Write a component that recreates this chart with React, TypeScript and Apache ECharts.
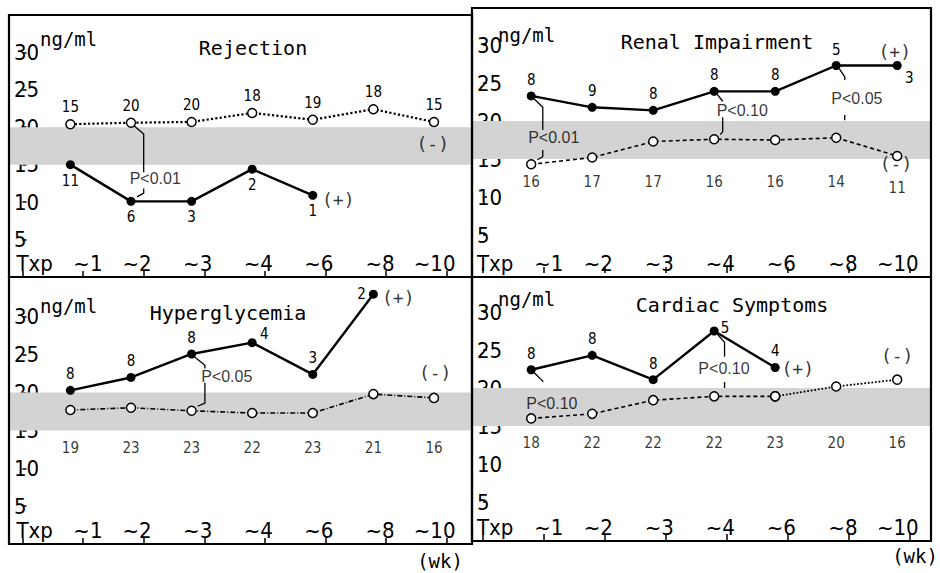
import React, { useEffect, useRef } from 'react';
import * as echarts from 'echarts';

// ---------- data ----------
const xLabels = ['Txp', '~1', '~2', '~3', '~4', '~6', '~8', '~10'];
const yTicks = [5, 10, 15, 20, 25, 30];
const bandLow = 15;
const bandHigh = 20;

// Rejection
const rejPlus = [15.0, 10.1, 10.1, 14.4, 10.9];
const rejPlusN = [11, 6, 3, 2, 1];
const rejMinus = [20.4, 20.6, 20.7, 21.9, 21.0, 22.4, 20.7];
const rejMinusN = [15, 20, 20, 18, 19, 18, 15];

// Renal Impairment
const renPlus = [23.3, 21.8, 21.4, 23.9, 23.9, 27.3, 27.3];
const renPlusN = [8, 9, 8, 8, 8, 5, 3];
const renMinus = [14.3, 15.2, 17.3, 17.6, 17.5, 17.8, 15.4];
const renMinusN = [16, 17, 17, 16, 16, 14, 11];

// Hyperglycemia
const hypPlus = [20.3, 22.0, 25.1, 26.6, 22.4, 33.0];
const hypPlusN = [8, 8, 8, 4, 3, 2];
const hypMinus = [17.7, 18.0, 17.6, 17.3, 17.3, 19.8, 19.3];
const hypMinusN = [19, 23, 23, 22, 23, 21, 16];

// Cardiac Symptoms
const carPlus = [22.4, 24.3, 21.1, 27.5, 22.7];
const carPlusN = [8, 8, 8, 5, 4];
const carMinus = [16.0, 16.6, 18.4, 18.9, 18.9, 20.2, 21.1];
const carMinusN = [18, 22, 22, 22, 23, 20, 16];

// P-value annotations (slot = interval index, values in ng/ml)
const rejAnn = [{ slot: 1, text: 'P<0.01', textY: 13.1, textDx: 0.4, lineDx: 0.21, upEnd: 14.0, lowStart: 11.8, lowEnd: 11.2, hook: true }];
const renAnn = [
  { slot: 0, text: 'P<0.01', textY: 17.8, textDx: 0.37, lineDx: 0.19, upEnd: 18.8, lowStart: 16.2, lowEnd: 15.3, hook: true },
  { slot: 3, text: 'P<0.10', textY: 21.4, textDx: 0.46, lineDx: 0.14, upEnd: 22.6, lowStart: 20.5, lowEnd: 18.6, hook: true },
  { slot: 5, text: 'P<0.05', textY: 23.0, textDx: 0.34, lineDx: 0.14, upEnd: 25.4, lowStart: 20.8, lowEnd: 20.1, hook: false },
];
const hypAnn = [{ slot: 2, text: 'P<0.05', textY: 22.1, textDx: 0.58, lineDx: 0.22, upEnd: 23.2, lowStart: 21.3, lowEnd: 18.6, hook: true }];
const carAnn = [
  { slot: 0, text: 'P<0.10', textY: 18.0, textDx: 0.34, lineDx: 0.19, upEnd: 20.8, lowStart: null, lowEnd: null, hook: false },
  { slot: 3, text: 'P<0.10', textY: 22.6, textDx: 0.16, lineDx: 0.17, upEnd: 24.1, lowStart: 20.8, lowEnd: 20.0, hook: false },
];

// rows (ng/ml) where the (-) counts are written, when not above the points
const renCountRow = [12.0, 12.0, 12.0, 12.0, 12.0, 12.0, 11.2];
const hypCountRow = [12.7, 12.7, 12.7, 12.7, 12.7, 12.7, 12.7];
const carCountRow = [12.8, 12.8, 12.8, 12.8, 12.8, 12.8, 12.8];

// ---------- layout ----------
const FONT_NARROW = '"Liberation Sans Narrow", "DejaVu Sans Condensed", "Roboto Condensed", sans-serif';
const FONT_SANS = '"Liberation Sans", Arial, sans-serif';
const FONT_MONO = '"DejaVu Sans Mono", "Liberation Mono", monospace';
const POINT_LAG = 0.21;
const xOf = (i: number) => i + 1 - POINT_LAG;
const xLabelShift = [0.2, 0.08, -0.11, -0.11, -0.11, -0.11, -0.1, -0.2];

const layouts = [
  { left: 9, right: 472, top: 15, zero: 277, frameTop: 15, frameBottom: 277, tick0: 22.5, step: 60.6, unit: 7.49, titleX: 253, titleY: 48, ngX: 40, ngY: 39 },
  { left: 472, right: 931, top: 8, zero: 273, frameTop: 8, frameBottom: 277, tick0: 483, step: 61, unit: 7.6, titleX: 717, titleY: 42, ngX: 498, ngY: 35 },
  { left: 9, right: 472, top: 277, zero: 544, frameTop: 277, frameBottom: 544, tick0: 22.5, step: 60.6, unit: 7.57, titleX: 228, titleY: 313, ngX: 40, ngY: 306 },
  { left: 472, right: 931, top: 277, zero: 540, frameTop: 277, frameBottom: 541, tick0: 483, step: 61, unit: 7.6, titleX: 732, titleY: 305, ngX: 498, ngY: 299 },
];

const panels = [
  { title: 'Rejection', plus: rejPlus, plusN: rejPlusN, plusPos: ['bottom', 'bottom', 'bottom', 'bottom', 'bottom'], minus: rejMinus, minusN: rejMinusN, countRow: null as number[] | null, dash: 'dotted' as any, dottedFrom: -1, ann: rejAnn, plusTag: [5.21, 10.4], minusTag: [6.77, 17.8] },
  { title: 'Renal Impairment', plus: renPlus, plusN: renPlusN, plusPos: ['top', 'top', 'top', 'top', 'top', 'top', 'bottomRight'], minus: renMinus, minusN: renMinusN, countRow: renCountRow, dash: [4, 3] as any, dottedFrom: -1, ann: renAnn, plusTag: [6.75, 29.1], minusTag: [6.77, 14.4] },
  { title: 'Hyperglycemia', plus: hypPlus, plusN: hypPlusN, plusPos: ['top', 'top', 'top', 'topRight', 'top', 'left'], minus: hypMinus, minusN: hypMinusN, countRow: hypCountRow, dash: [5, 2, 1, 2] as any, dottedFrom: -1, ann: hypAnn, plusTag: [6.2, 32.6], minusTag: [6.81, 22.7] },
  { title: 'Cardiac Symptoms', plus: carPlus, plusN: carPlusN, plusPos: ['top', 'top', 'top', 'right', 'top'], minus: carMinus, minusN: carMinusN, countRow: carCountRow, dash: [4, 3] as any, dottedFrom: 4, ann: carAnn, plusTag: [5.16, 22.6], minusTag: [6.79, 24.3] },
];

const countFont = { fontFamily: FONT_NARROW, fontSize: 15, color: '#000' };
const tickFont = { fontFamily: FONT_NARROW, fontSize: 22, color: '#000' };

function labelFor(pos: string) {
  switch (pos) {
    case 'bottom': return { position: 'bottom', distance: 4 };
    case 'top': return { position: 'top', distance: 4 };
    case 'topRight': return { position: 'top', distance: 0, offset: [12, 3] };
    case 'right': return { position: 'right', distance: 2, offset: [0, -3] };
    case 'left': return { position: 'left', distance: 3 };
    case 'bottomRight': return { position: 'bottom', distance: 0, offset: [12, 0] };
    default: return { position: 'top' };
  }
}

function buildOption() {
  const grid: any[] = [];
  const xAxis: any[] = [];
  const yAxis: any[] = [];
  const series: any[] = [];
  const graphic: any[] = [];

  panels.forEach((p, k) => {
    const L = layouts[k];
    grid.push({ left: L.left, top: L.top, width: L.right - L.left, height: L.zero - L.top, containLabel: false });
    const xMin = (L.left - L.tick0) / L.step;
    const xMax = (L.right - L.tick0) / L.step;
    xAxis.push({
      type: 'value', gridIndex: k, min: xMin, max: xMax, offset: L.frameBottom - L.zero,
      axisLine: { show: false }, splitLine: { show: false },
      axisTick: { show: true, inside: true, length: 6, customValues: xLabels.map((_, i) => i), lineStyle: { color: '#000', width: 1.5 } },
      axisLabel: {
        show: true, inside: true, margin: 3, ...tickFont,
        customValues: xLabels.map((_, i) => i + xLabelShift[i]),
        formatter: (v: number) => xLabels[Math.round(v)] ?? '',
      },
    });
    yAxis.push({
      type: 'value', gridIndex: k, min: 0, max: (L.zero - L.top) / L.unit,
      axisLine: { show: false }, splitLine: { show: false },
      axisTick: { show: true, inside: true, length: 4, customValues: yTicks, lineStyle: { color: '#000', width: 1.5 } },
      axisLabel: { show: true, inside: true, margin: 5, ...tickFont, customValues: yTicks },
    });

    // band + (-) series
    const minusData = p.minus.map((v, i) => ({ value: [xOf(i), v], name: String(p.minusN[i]) }));
    const minusCommon = {
      type: 'line', xAxisIndex: k, yAxisIndex: k, symbol: 'circle', symbolSize: 9,
      itemStyle: { color: '#fff', borderColor: '#000', borderWidth: 1.5 },
      z: 4,
      label: p.countRow === null ? { show: true, position: 'top', distance: 4, formatter: '{b}', ...countFont } : { show: false },
    };
    if (p.dottedFrom >= 0) {
      series.push({ ...minusCommon, data: minusData.slice(0, p.dottedFrom + 1), lineStyle: { color: '#000', width: 1.6, type: p.dash } });
      series.push({ ...minusCommon, data: minusData.slice(p.dottedFrom), lineStyle: { color: '#000', width: 1.8, type: 'dotted' } });
    } else {
      series.push({ ...minusCommon, data: minusData, lineStyle: { color: '#000', width: p.dash === 'dotted' ? 2.2 : 1.6, type: p.dash } });
    }
    series.push({
      type: 'line', xAxisIndex: k, yAxisIndex: k, data: [], z: 1,
      markArea: { silent: true, itemStyle: { color: '#d3d3d3' }, data: [[{ yAxis: bandLow }, { yAxis: bandHigh }]] },
    });

    // (+) series
    series.push({
      type: 'line', xAxisIndex: k, yAxisIndex: k, symbol: 'circle', symbolSize: 9, z: 5,
      itemStyle: { color: '#000' }, lineStyle: { color: '#000', width: 2.4 },
      label: { show: true, formatter: '{b}', ...countFont },
      data: p.plus.map((v, i) => ({ value: [xOf(i), v], name: String(p.plusN[i]), label: labelFor(p.plusPos[i]) })),
    });

    // (-) counts row
    if (p.countRow !== null) {
      const row = p.countRow;
      series.push({
        type: 'scatter', xAxisIndex: k, yAxisIndex: k, symbolSize: 0, z: 6,
        label: { show: true, position: 'inside', formatter: '{b}', ...countFont },
        data: p.minusN.map((n, i) => ({ value: [xOf(i), row[i]], name: String(n) })),
      });
    }

    // tags
    series.push({
      type: 'scatter', xAxisIndex: k, yAxisIndex: k, symbolSize: 0, z: 3,
      label: { show: true, position: 'inside', formatter: '{b}', fontFamily: FONT_MONO, fontSize: 18, color: '#000' },
      data: [{ value: p.plusTag, name: '(+)' }, { value: p.minusTag, name: '(-)' }],
    });

    // P-value annotations
    series.push({
      type: 'scatter', xAxisIndex: k, yAxisIndex: k, symbolSize: 0, z: 6,
      label: { show: true, position: 'inside', formatter: '{b}', fontFamily: FONT_SANS, fontSize: 16, color: '#000' },
      data: p.ann.map((a) => ({ value: [xOf(a.slot) + a.textDx, a.textY], name: a.text })),
    });
    p.ann.forEach((a) => {
      const x = xOf(a.slot);
      const hi = Math.max(p.plus[a.slot], p.minus[a.slot]);
      const lo = Math.min(p.plus[a.slot], p.minus[a.slot]);
      const lx = x + a.lineDx;
      const lineBase = { type: 'line', xAxisIndex: k, yAxisIndex: k, showSymbol: false, symbol: 'none', z: 2, lineStyle: { color: '#000', width: 1.3 }, silent: true };
      series.push({ ...lineBase, data: [[x + 0.05, hi - 0.4], [lx, Math.max(a.upEnd, hi - 1.5)], [lx, a.upEnd]] });
      if (a.lowStart !== null) {
        const pts: number[][] = [[lx, a.lowStart], [lx, a.lowEnd as number]];
        if (a.hook) pts.push([x + 0.1, lo + 0.6]);
        series.push({ ...lineBase, data: pts });
      }
    });

    // frame, title, unit
    graphic.push({ type: 'rect', shape: { x: L.left, y: L.frameTop, width: L.right - L.left, height: L.frameBottom - L.frameTop }, style: { fill: 'none', stroke: '#000', lineWidth: 2.2 }, z: 100 });
    graphic.push({ type: 'text', x: L.titleX, y: L.titleY, style: { text: p.title, fontFamily: FONT_MONO, fontSize: 20, fill: '#000', textAlign: 'center', textVerticalAlign: 'middle' }, z: 100 });
    graphic.push({ type: 'text', x: L.ngX, y: L.ngY, style: { text: 'ng/ml', fontFamily: FONT_MONO, fontSize: 19, fill: '#000', textAlign: 'left', textVerticalAlign: 'middle' }, z: 100 });
  });

  graphic.push({ type: 'text', x: 440, y: 561, style: { text: '(wk)', fontFamily: FONT_MONO, fontSize: 19, fill: '#000', textAlign: 'center', textVerticalAlign: 'middle' } });
  graphic.push({ type: 'text', x: 915, y: 556, style: { text: '(wk)', fontFamily: FONT_MONO, fontSize: 19, fill: '#000', textAlign: 'center', textVerticalAlign: 'middle' } });

  return { animation: false, backgroundColor: '#fff', grid, xAxis, yAxis, series, graphic };
}

export default function App() {
  const ref = useRef<HTMLDivElement>(null);
  useEffect(() => {
    const chart = echarts.init(ref.current as HTMLDivElement, null, { renderer: 'svg', width: 940, height: 573 });
    chart.setOption(buildOption() as any);
    return () => chart.dispose();
  }, []);
  return <div ref={ref} style={{ position: 'absolute', left: 0, top: 0, width: 940, height: 573, background: '#fff' }} />;
}
